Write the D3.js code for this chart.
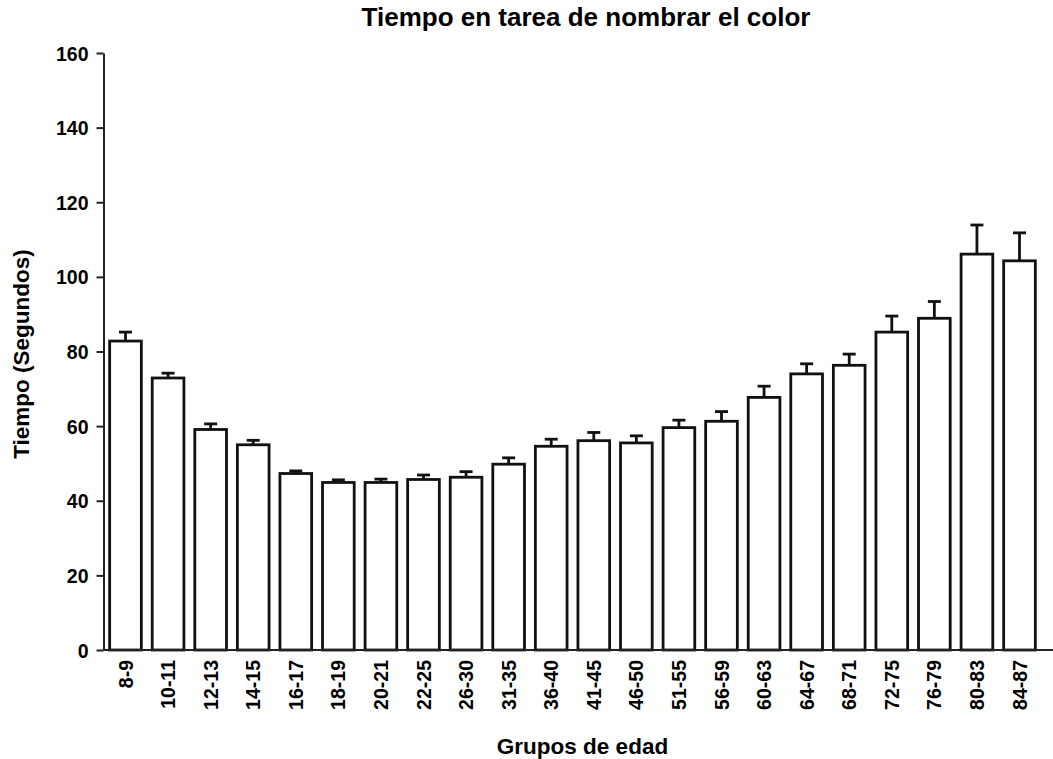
<!DOCTYPE html>
<html>
<head>
<meta charset="utf-8">
<script src="https://cdn.jsdelivr.net/npm/d3@7"></script>
<style>
  html, body { margin: 0; padding: 0; background: #fff; }
  svg { display: block; font-family: "Liberation Sans", Arial, sans-serif; }
</style>
</head>
<body>
<svg id="chart" width="1053" height="759"></svg>
<script>
// Age groups and mean naming time (seconds) with standard error
const groups = ["8-9","10-11","12-13","14-15","16-17","18-19","20-21","22-25","26-30","31-35",
  "36-40","41-45","46-50","51-55","56-59","60-63","64-67","68-71","72-75","76-79","80-83","84-87"];
const means = [82.8, 72.9, 59.1, 55.0, 47.3, 44.9, 44.9, 45.7, 46.3, 49.8,
  54.6, 56.1, 55.5, 59.6, 61.3, 67.7, 74.0, 76.3, 85.2, 88.9, 106.1, 104.3];
const errors = [2.4, 1.3, 1.5, 1.2, 0.7, 0.7, 0.9, 1.2, 1.5, 1.7,
  1.9, 2.2, 1.9, 2.0, 2.6, 3.0, 2.7, 3.0, 4.3, 4.5, 7.8, 7.5];
const yTicks = [0, 20, 40, 60, 80, 100, 120, 140, 160];

const svg = d3.select("#chart");
const axisX = 103.5, baseY = 650;

const x = d3.scaleBand().domain(groups).range([104, 1041])
  .paddingInner(0.19).paddingOuter(0.1);
const y = d3.scaleLinear().domain([0, 160]).range([baseY, 53]);

const barStroke = 2.8;

// Bars
svg.append("g").selectAll("rect").data(groups).join("rect")
  .attr("x", d => x(d) + barStroke / 2)
  .attr("width", x.bandwidth() - barStroke)
  .attr("y", (d, i) => y(means[i]))
  .attr("height", (d, i) => baseY - y(means[i]))
  .attr("fill", "#fff")
  .attr("stroke", "#111")
  .attr("stroke-width", barStroke);

// Error bars (upper only)
const err = svg.append("g").attr("stroke", "#111").attr("stroke-width", 2.8);
groups.forEach((g, i) => {
  const cx = x(g) + x.bandwidth() / 2;
  err.append("line").attr("x1", cx).attr("x2", cx)
    .attr("y1", y(means[i])).attr("y2", y(means[i] + errors[i]));
  err.append("line").attr("x1", cx - 6.5).attr("x2", cx + 6.5)
    .attr("y1", y(means[i] + errors[i])).attr("y2", y(means[i] + errors[i]));
});

// Baseline
svg.append("line").attr("x1", axisX).attr("x2", 1053)
  .attr("y1", baseY).attr("y2", baseY)
  .attr("stroke", "#222").attr("stroke-width", 2);

// Y axis
const yAxis = svg.append("g").attr("transform", `translate(${axisX},0)`)
  .call(d3.axisLeft(y).tickValues(yTicks).tickSize(7).tickSizeOuter(0).tickPadding(8));
yAxis.select(".domain").attr("stroke", "#222").attr("stroke-width", 2);
yAxis.selectAll(".tick line").attr("stroke", "#222").attr("stroke-width", 2);
yAxis.selectAll(".tick text")
  .attr("font-family", "Liberation Sans, Arial, sans-serif")
  .attr("font-size", 19.5).attr("font-weight", "bold").attr("fill", "#000")
  .attr("dy", "0.36em");

// X category labels, rotated
svg.append("g").selectAll("text").data(groups).join("text")
  .attr("transform", d => `translate(${x(d) + x.bandwidth() / 2},660) rotate(-90)`)
  .attr("text-anchor", "end")
  .attr("dy", "0.36em")
  .attr("font-size", 19.5).attr("font-weight", "bold").attr("fill", "#000")
  .text(d => d);

// Titles
svg.append("text").attr("x", 586).attr("y", 26)
  .attr("text-anchor", "middle").attr("font-size", 26).attr("font-weight", "bold")
  .text("Tiempo en tarea de nombrar el color");

svg.append("text").attr("x", 582.5).attr("y", 754)
  .attr("text-anchor", "middle").attr("font-size", 22.5).attr("font-weight", "bold")
  .text("Grupos de edad");

svg.append("text").attr("transform", "translate(29,354) rotate(-90)")
  .attr("text-anchor", "middle").attr("font-size", 22.5).attr("font-weight", "bold")
  .text("Tiempo (Segundos)");
</script>
</body>
</html>
